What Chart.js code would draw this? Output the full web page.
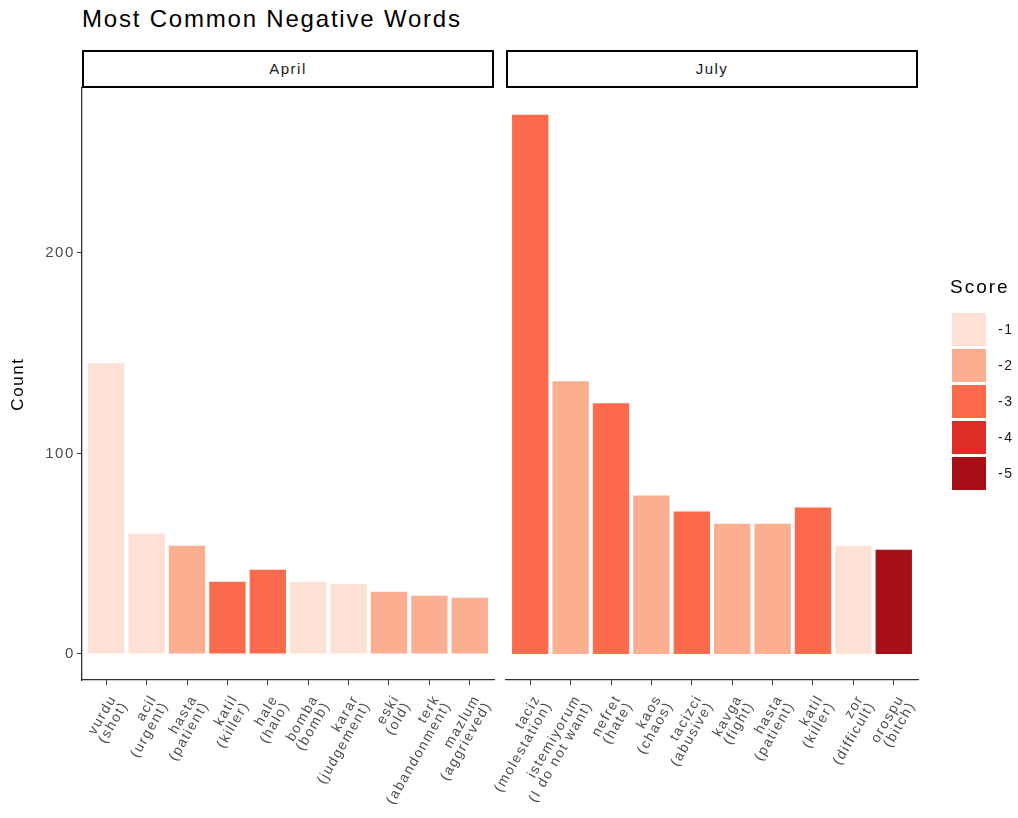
<!DOCTYPE html>
<html>
<head>
<meta charset="utf-8">
<script src="https://cdn.jsdelivr.net/npm/chart.js@4.4.1/dist/chart.umd.min.js"></script>
<style>
  html, body { margin: 0; padding: 0; background: #fff; }
  body { width: 1018px; height: 818px; position: relative; overflow: hidden; font-family: "Liberation Sans", Arial, sans-serif; }
  canvas { position: absolute; left: 0; top: 0; }
  #title { position: absolute; left: 82px; top: 7px; font-size: 24px; line-height: 24px; letter-spacing: 1.8px; color: #000; white-space: nowrap; }
  .strip { position: absolute; top: 50px; height: 34px; border: 2px solid #000; background: #fff;
           font-size: 15px; letter-spacing: 1.5px; color: #1a1a1a; text-align: center; line-height: 34px; box-sizing: content-box; }
  #legend { position: absolute; left: 952px; top: 277px; }
  #legend .lt { font-size: 19px; line-height: 19px; letter-spacing: 2px; color: #000; height: 34px; margin-left: -2px; }
  #legend .row { display: flex; align-items: center; height: 36px; }
  #legend .key { width: 34px; height: 33px; }
  #legend .lab { font-size: 14px; letter-spacing: 1.5px; color: #1a1a1a; margin-left: 12px; }
</style>
</head>
<body>
<div id="title">Most Common Negative Words</div>
<div class="strip" style="left:82px;width:408px;">April</div>
<div class="strip" style="left:506px;width:408px;">July</div>
<canvas id="c1" width="1018" height="818"></canvas>
<canvas id="c2" width="1018" height="818"></canvas>
<div id="legend"></div>
<script>
// ---- data ----
const panels = ["April", "July"];
const aprilWords = [["vurdu","(shot)"],["acil","(urgent)"],["hasta","(patient)"],["katil","(killer)"],["hale","(halo)"],["bomba","(bomb)"],["karar","(judgement)"],["eski","(old)"],["terk","(abandonment)"],["mazlum","(aggrieved)"]];
const aprilCounts = [145, 60, 54, 36, 42, 36, 35, 31, 29, 28];
const aprilScores = [-1, -1, -2, -3, -3, -1, -1, -2, -2, -2];
const julyWords = [["taciz","(molestation)"],["istemiyorum","(I do not want)"],["nefret","(hate)"],["kaos","(chaos)"],["tacizci","(abusive)"],["kavga","(fight)"],["hasta","(patient)"],["katil","(killer)"],["zor","(difficult)"],["orospu","(bitch)"]];
const julyCounts = [269, 136, 125, 79, 71, 65, 65, 73, 54, 52];
const julyScores = [-3, -2, -3, -2, -3, -2, -2, -3, -1, -5];
const scoreLevels = [-1, -2, -3, -4, -5];
const scoreColors = ["#FDE1D5", "#FCAE91", "#FB6A4A", "#DE2D26", "#A50F15"];
const yTicks = [0, 100, 200];

const colorOf = s => scoreColors[scoreLevels.indexOf(s)];
const FONT = "'Liberation Sans', Arial, sans-serif";

const spacing = {
  id: 'spacing',
  beforeDraw(chart) { chart.ctx.letterSpacing = '1.6px'; },
  afterDraw(chart) { chart.ctx.letterSpacing = '0px'; }
};

function makeChart(id, words, counts, scores, showY, pad) {
  const ctx = document.getElementById(id);
  return new Chart(ctx, {
    type: 'bar',
    plugins: [spacing],
    data: {
      datasets: [{
        data: counts.map((v, i) => ({ x: i + 1, y: v })),
        backgroundColor: scores.map(colorOf),
        borderWidth: 0,
        barPercentage: 0.9,
        categoryPercentage: 1.0
      }]
    },
    options: {
      responsive: false,
      animation: false,
      events: [],
      layout: { padding: pad },
      plugins: { legend: { display: false }, tooltip: { enabled: false } },
      scales: {
        x: {
          type: 'linear',
          offset: false,
          min: 0.4, max: 10.6,
          afterBuildTicks: s => { s.ticks = words.map((w, i) => ({ value: i + 1 })); },
          afterFit: s => { s.height = 138; s.paddingLeft = 0; s.paddingRight = 0; },
          grid: { offset: false, drawOnChartArea: false, drawTicks: true, tickLength: 5, color: '#333', lineWidth: 1 },
          border: { display: true, color: '#333', width: 1.3 },
          ticks: {
            autoSkip: false, minRotation: 60, maxRotation: 60, padding: 8, labelOffset: 7,
            color: '#4d4d4d', font: { family: FONT, size: 14, lineHeight: 0.95 },
            callback: v => words[v - 1]
          }
        },
        y: {
          display: showY,
          min: -13, max: 282.3,
          afterBuildTicks: s => { s.ticks = yTicks.map(v => ({ value: v })); },
          afterFit: s => { s.width = showY ? 82 : 0; },
          grid: { drawOnChartArea: false, drawTicks: true, tickLength: 5, color: '#333', lineWidth: 1 },
          border: { display: true, color: '#333', width: 1.3 },
          ticks: { color: '#4d4d4d', padding: 2, font: { family: FONT, size: 15 } },
          title: { display: true, text: 'Count', color: '#000', padding: { top: 8, bottom: 0 },
                   font: { family: FONT, size: 17 } }
        }
      }
    }
  });
}

makeChart('c1', aprilWords, aprilCounts, aprilScores, true, { left: 0, right: 1018 - 494, top: 88, bottom: 0 });
makeChart('c2', julyWords, julyCounts, julyScores, false, { left: 506, right: 1018 - 918, top: 88, bottom: 0 });

// ---- legend ----
const lg = document.getElementById('legend');
let html = '<div class="lt">Score</div>';
scoreLevels.forEach((s, i) => {
  html += '<div class="row"><div class="key" style="background:' + scoreColors[i] + '"></div><div class="lab">' + s + '</div></div>';
});
lg.innerHTML = html;
</script>
</body>
</html>
